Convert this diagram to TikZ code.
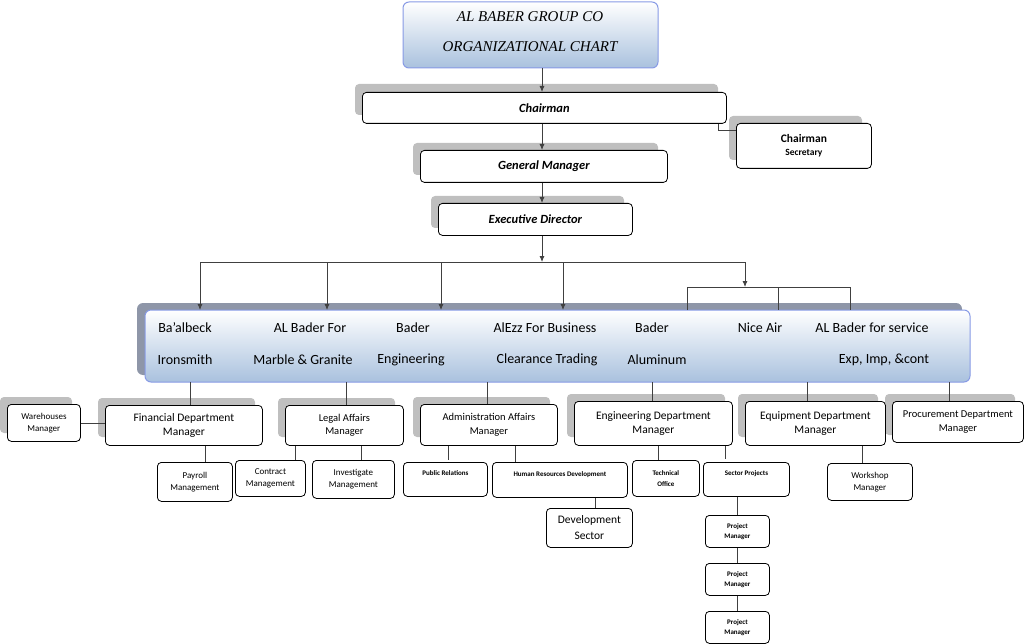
\documentclass[tikz,border=0pt]{standalone}
\usetikzlibrary{arrows.meta}
\usepackage{fontspec}
\setmainfont{Carlito}
\newfontfamily\ttl{Liberation Serif}
\definecolor{gb}{HTML}{A9C1DE}
\definecolor{bs}{HTML}{8E96A8}
\begin{document}
\begin{tikzpicture}[x=1pt,y=-1pt,
 bx/.style={draw=black,line width=0.8pt,rounded corners=4pt,fill=white,align=center,inner sep=0pt},
 sh/.style={fill=black!25,rounded corners=4pt},
 ln/.style={draw=black!75,line width=0.8pt},
 ar/.style={ln,-{Latex[length=6pt,width=5pt]}},
 f1/.style={font=\fontsize{11.5}{14}\selectfont},
 f2/.style={font=\fontsize{9}{12}\selectfont},
 f3/.style={font=\bfseries\fontsize{7}{10.5}\selectfont}]
\useasboundingbox (0,0) rectangle (1024,644);
% title
\shade[top color=white,bottom color=gb,rounded corners=6pt,draw=gb!80!blue,line width=1pt] (403,2) rectangle (658,68);
\coordinate (tb) at (542,68);
\node[font=\ttl\itshape\fontsize{15}{17}\selectfont] (t1) at (530,17) {AL BABER GROUP CO};
\node[font=\ttl\itshape\fontsize{15}{17}\selectfont] (t2) at (530,47) {ORGANIZATIONAL CHART};
% shadows
\fill[sh] (355,84) rectangle (718,115);
\fill[sh] (729,116) rectangle (862,160);
\fill[sh] (413,143) rectangle (658,175);
\fill[sh] (431,196) rectangle (624,228);
\fill[bs,rounded corners=6pt] (137,303) rectangle (962,375);
\fill[sh] (0,397) rectangle (72,433);
\fill[sh] (98,398) rectangle (255,437);
\fill[sh] (278,398) rectangle (395,437);
\fill[sh] (413,397) rectangle (550,437);
\fill[sh] (567,394) rectangle (725,437);
\fill[sh] (738,394) rectangle (878,437);
\fill[sh] (885,394) rectangle (1015,435);
% top chain
\node[bx,minimum width=364,minimum height=31,anchor=north west,font=\bfseries\itshape\fontsize{12.5}{14}\selectfont] (ch) at (362,92) {Chairman};
\node[bx,minimum width=135,minimum height=45,anchor=north west,font=\bfseries\fontsize{11.5}{14}\selectfont] (sec) at (736,123) {Chairman\\[-1pt]{\fontsize{9.5}{11}\selectfont Secretary}};
\node[bx,minimum width=247,minimum height=32,anchor=north west,font=\bfseries\itshape\fontsize{12.5}{14}\selectfont] (gm) at (420,150) {General Manager};
\node[bx,minimum width=194,minimum height=32,anchor=north west,font=\bfseries\itshape\fontsize{12.5}{14}\selectfont] (ed) at (438,203) {Executive Director};
\draw[ar] (tb) -- (ch.north -| tb);
\draw[ar] (ch.south -| tb) -- (gm.north -| tb);
\draw[ar] (gm.south -| tb) -- (ed.north -| tb);
\draw[ln] (ch.south -| 718,0) -- (718,130) -- (sec.west |- 0,130);
% band
\shade[top color=white,bottom color=gb,rounded corners=6pt,draw=gb!80!blue,line width=1pt] (145,310) rectangle (970,382);
\coordinate (bt) at (542,262);
\draw[ar] (ed.south -| bt) -- (bt);
\draw[ln] (200,262) -- (745,262);
\foreach \x in {200,327,441,563} \draw[ar] (\x,262) -- (\x,310);
\draw[ar] (745,262) -- (745,287);
\draw[ln] (687,310) -- (687,287) -- (850,287) -- (850,310);
\draw[ln] (778,287) -- (778,310);
\begin{scope}[every node/.style={font=\fontsize{14}{15}\selectfont,inner sep=0pt}]
\node (b1) at (185,328) {Ba'albeck}; \node (b1b) at (185,360) {Ironsmith};
\node (b2) at (310,328) {AL Bader For}; \node (b2b) at (303,360) {Marble \& Granite};
\node (b3) at (413,328) {Bader}; \node (b3b) at (411,360) {Engineering};
\node (b4) at (545,328) {AlEzz For Business}; \node (b4b) at (547,360) {Clearance Trading};
\node (b5) at (652,328) {Bader}; \node (b5b) at (657,360) {Aluminum};
\node (b6) at (760,328) {Nice Air};
\node (b7) at (872,328) {AL Bader for service}; \node (b7b) at (884,360) {Exp, Imp, \&cont};
\end{scope}
% managers
\node[bx,f2,minimum width=73,minimum height=37,anchor=north west] (wh) at (7,404) {Warehouses\\Manager};
\node[bx,f1,minimum width=157,minimum height=40,anchor=north west] (fin) at (105,405) {Financial Department\\Manager};
\node[bx,minimum width=118,minimum height=40,anchor=north west,font=\fontsize{10.5}{13.5}\selectfont] (leg) at (285,405) {Legal Affairs\\Manager};
\node[bx,minimum width=137,minimum height=41,anchor=north west,font=\fontsize{10.5}{13.5}\selectfont] (adm) at (420,404) {Administration Affairs\\Manager};
\node[bx,f1,minimum width=158,minimum height=44,anchor=north west] (eng) at (574,401) {Engineering Department\\Manager};
\node[bx,f1,minimum width=140,minimum height=44,anchor=north west] (equ) at (745,401) {Equipment Department\\Manager};
\node[bx,minimum width=131,minimum height=41,anchor=north west,font=\fontsize{10.5}{13.5}\selectfont] (pro) at (892,401) {Procurement Department\\Manager};
\foreach \x/\n in {190/fin,346/leg,487/adm,652/eng,807/equ,949/pro}
 \draw[ln] (\x,382) -- (\n.north -| \x,0);
\draw[ln] (wh.east) -- (fin.west |- wh.east);
% sub-units
\node[bx,f2,minimum width=75,minimum height=39,anchor=north west] (pay) at (157,462) {Payroll\\Management};
\node[bx,f2,minimum width=70,minimum height=36,anchor=north west] (con) at (235,460) {Contract\\Management};
\node[bx,f2,minimum width=82,minimum height=38,anchor=north west] (inv) at (312,460) {Investigate\\Management};
\node[bx,f3,minimum width=84,minimum height=34,anchor=north west,text depth=12pt] (pr) at (403,462) {Public Relations};
\node[bx,f3,minimum width=135,minimum height=35,anchor=north west,text depth=12pt] (hr) at (492,462) {Human Resources Development};
\node[bx,minimum width=86,minimum height=39,anchor=north west,font=\fontsize{11.5}{16}\selectfont] (dev) at (546,508) {Development\\Sector};
\node[bx,f3,minimum width=67,minimum height=36,anchor=north west] (tec) at (632,460) {Technical\\Office};
\node[bx,f3,minimum width=86,minimum height=34,anchor=north west,text depth=12pt] (sp) at (703,462) {Sector Projects};
\node[bx,f3,minimum width=64,minimum height=32,anchor=north west] (pm1) at (705,515) {Project\\Manager};
\node[bx,f3,minimum width=64,minimum height=32,anchor=north west] (pm2) at (705,563) {Project\\Manager};
\node[bx,f3,minimum width=64,minimum height=32,anchor=north west] (pm3) at (705,611) {Project\\Manager};
\node[bx,f2,minimum width=85,minimum height=37,anchor=north west] (ws) at (827,463) {Workshop\\Manager};
\draw[ln] (fin.south -| 205,0) -- (pay.north -| 205,0);
\draw[ln] (leg.south -| 295,0) -- (con.north -| 295,0);
\draw[ln] (leg.south -| 361,0) -- (inv.north -| 361,0);
\draw[ln] (adm.south -| 448,0) -- (448,460);
\draw[ln] (adm.south -| 515,0) -- (hr.north -| 515,0);
\draw[ln] (hr.south -| 595,0) -- (dev.north -| 595,0);
\draw[ln] (eng.south -| 658,0) -- (tec.north -| 658,0);
\draw[ln] (eng.south -| 725,0) -- (725,459);
\draw[ln] (sp.south -| 737,0) -- (pm1.north -| 737,0);
\draw[ln] (pm1) -- (pm2);
\draw[ln] (pm2) -- (pm3);
\draw[ln] (equ.south -| 862,0) -- (ws.north -| 862,0);
\end{tikzpicture}
\end{document}
